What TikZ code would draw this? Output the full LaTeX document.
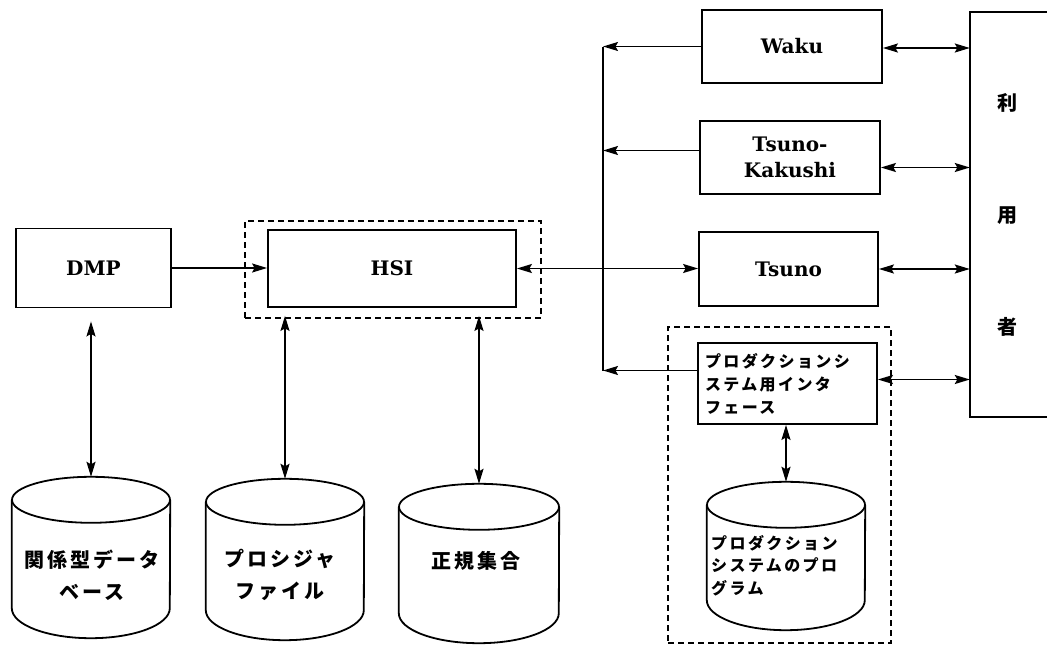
\documentclass[tikz,border=0pt]{standalone}
\usepackage{fontspec}
\newfontfamily\jp[LetterSpace=15]{Noto Sans CJK JP}
\newfontfamily\lat{DejaVu Serif}
\usetikzlibrary{arrows.meta}

\tikzset{
  box/.style={draw, line width=1.8pt},
  blk/.style={box, inner sep=0pt, align=center,
    font=\lat\bfseries\fontsize{20}{26}\selectfont},
  frame/.style={draw, line width=1.6pt, dash pattern=on 6pt off 4pt, inner sep=0pt},
  tip/.tip={Stealth[length=15pt, width=9pt, inset=2.5pt]},
  link/.style={line width=1.6pt, -tip},
  dlink/.style={line width=1.6pt, tip-tip},
  jpl/.style={inner sep=0pt, align=center,
    font=\jp\bfseries\fontsize{20}{32}\selectfont},
  jps/.style={inner sep=0pt, align=left,
    font=\jp\bfseries\fontsize{16}{23}\selectfont},
}

% drum: name, centre x, half width, top y, bottom y
\newcommand\drum[5]{%
  \node[inner sep=0pt, minimum width={2*#3}, minimum height={#5-#4}]
    (#1) at (#2,{(#4+#5)/2}) {};
  \draw[box] ([yshift=-23pt]#1.north west) -- ([yshift=30pt]#1.south west)
    arc[start angle=180, end angle=360, x radius=#3pt, y radius=30pt]
    -- ([yshift=-23pt]#1.north east);
  \draw[box] ([yshift=-23pt]#1.north) ellipse[x radius=#3pt, y radius=23pt];
}

\begin{document}
\begin{tikzpicture}[x=1pt, y=-1pt]
\useasboundingbox (0,0) rectangle (1047,645);

% left part
\node[blk, minimum width=155pt, minimum height=79pt] (dmp) at (93.5,268) {DMP};
\node[blk, minimum width=248pt, minimum height=77pt] (hsi) at (392,268.5) {HSI};
\node[frame, minimum width=296pt, minimum height=97pt] (hsiframe) at (393,269.5) {};

\drum{c1}{91}{79}{477}{638}
\drum{c2}{285}{79}{479}{640}
\drum{c3}{479}{80}{484}{643}
\node[jpl] (c1t) at (92,575) {関係型データ\\ベース};
\node[jpl] (c2t) at (280,575) {プロシジャ\\ファイル};
\node[jpl] (c3t) at (476,561) {正規集合};

% right part
\node[blk, minimum width=180pt, minimum height=73pt] (waku) at (792,46.5) {Waku};
\node[blk, minimum width=180pt, minimum height=73pt] (tk) at (790,157.5) {Tsuno-\\Kakushi};
\node[blk, minimum width=179pt, minimum height=74pt] (tsuno) at (788.5,269) {Tsuno};
\node[box, jps, text width=165pt, inner xsep=7pt, minimum height=81pt] (intf)
  at (787.5,383.5) {プロダクションシ\\ステム用インタ\\フェース};
\node[frame, minimum width=223pt, minimum height=316pt] (prodframe) at (779.5,485) {};

\drum{c4}{786}{79}{482}{630}
\node[jps, anchor=west, font=\jp\bfseries\fontsize{16}{22.5}\selectfont] (c4t)
  at (711,565.5) {プロダクション\\システムのプロ\\グラム};

% user
\node[inner sep=0pt, minimum width=74pt, minimum height=405pt, align=center,
  font=\jp\bfseries\fontsize{20}{112}\selectfont] (user) at (1007,214.5) {利\\用\\者};
\draw[box] ([xshift=4pt]user.north east) -- (user.north west)
  -- (user.south west) -- ([xshift=4pt]user.south east);

% bus line
\coordinate (bustop) at (603,46.5);
\coordinate (busbot) at (603,370.5);
\draw[line width=1.8pt] (bustop) -- (busbot);

% connectors
\draw[link] (dmp.east) -- (dmp.east -| hsi.west);
\draw[dlink] (hsi.east) -- (hsi.east -| tsuno.west);

\draw[dlink, shorten >=13pt] (c1.north) -- (c1.north |- dmp.south);
\draw[dlink, shorten >=8pt] (c2.north) -- (c2.north |- hsi.south);
\draw[dlink, shorten >=8pt] (c3.north) -- (c3.north |- hsi.south);

\draw[link] (waku.west) -- (waku.west -| bustop);
\draw[link] ([yshift=7pt]tk.west) -- ([yshift=7pt]tk.west -| bustop);
\draw[link] ([yshift=13pt]intf.west) -- ([yshift=13pt]intf.west -| busbot);

\draw[dlink] ([yshift=-1.5pt]waku.east) -- ([yshift=-1.5pt]waku.east -| user.west);
\draw[dlink] ([yshift=-10pt]tk.east) -- ([yshift=-10pt]tk.east -| user.west);
\draw[dlink] (tsuno.east) -- (tsuno.east -| user.west);
\draw[dlink] ([yshift=4pt]intf.east) -- ([yshift=4pt]intf.east -| user.west);

\draw[dlink] (c4.north) -- (c4.north |- intf.south);
\end{tikzpicture}
\end{document}
